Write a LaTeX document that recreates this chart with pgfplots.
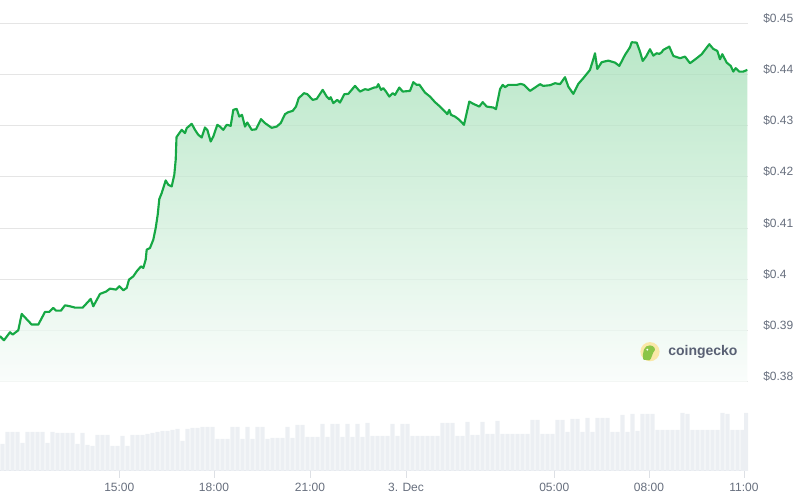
\documentclass[border=0pt]{standalone}
\usepackage{pgfplots}
\pgfplotsset{compat=1.18}
\usepackage{pgfplotstable}
\usepackage{fontspec}
\setmainfont{Liberation Sans}
\definecolor{lineGreen}{RGB}{22,168,68}
\definecolor{fillTop}{RGB}{163,223,182}
\definecolor{fillBot}{RGB}{248,252,250}
\definecolor{gridGray}{RGB}{229,229,229}
\definecolor{volGray}{RGB}{236,239,243}
\definecolor{tickGray}{RGB}{221,224,229}
\definecolor{labelGray}{RGB}{102,110,125}
\definecolor{logoYellow}{RGB}{250,232,168}
\definecolor{logoGreen}{RGB}{139,197,72}
\definecolor{logoText}{RGB}{88,96,115}

\pgfplotstableread{
x y
0 0.38891
4 0.38813
10 0.38969
12.7 0.38924
18.3 0.39008
21.7 0.39327
31.7 0.39119
38.3 0.39119
45 0.39366
49.3 0.39366
53.3 0.39444
56 0.39392
61 0.39392
65 0.39495
70 0.39476
75 0.39450
82.7 0.39450
90.7 0.39620
93.3 0.39476
100 0.39717
106 0.39762
110 0.39821
116 0.39801
119.3 0.39866
123.3 0.39788
126.7 0.39834
129 0.39996
133.3 0.40060
136.7 0.40158
141 0.40255
143.3 0.40224
145.7 0.40386
146.7 0.40581
150 0.40614
153.3 0.40776
155.7 0.41004
157.7 0.41263
159.3 0.41569
161.7 0.41686
165.7 0.41932
168.3 0.41848
171.7 0.41815
174.3 0.42043
175.7 0.42335
176.5 0.42778
181.7 0.42920
185 0.42856
186.7 0.42953
191.7 0.43037
195 0.42920
198.3 0.42823
201.7 0.42770
205 0.42965
207.3 0.42920
210.7 0.42692
213.3 0.42789
217.3 0.43018
220 0.42984
223.3 0.42920
226.7 0.43018
230.7 0.42998
233.3 0.43310
236.7 0.43329
239.3 0.43179
242 0.43212
245 0.42984
247.3 0.43062
251.7 0.42920
256 0.42930
261 0.43129
265 0.43051
271.7 0.42959
276.7 0.42984
280.7 0.43051
285 0.43226
288.3 0.43265
292.7 0.43290
296 0.43374
298.7 0.43538
304 0.43635
307.3 0.43616
312.7 0.43505
316.7 0.43524
322.7 0.43700
326.7 0.43569
329.3 0.43519
330.7 0.43557
333.3 0.43441
337.3 0.43505
340 0.43452
344.3 0.43616
348.3 0.43622
355 0.43778
360 0.43667
365 0.43713
368.3 0.43700
374 0.43745
376.7 0.43752
378.3 0.43811
381 0.43700
383.3 0.43733
386 0.43667
389.3 0.43569
392.7 0.43635
395 0.43602
399.3 0.43745
402.7 0.43667
410 0.43680
413.3 0.43850
416.7 0.43797
419.3 0.43803
425 0.43647
430 0.43569
435 0.43460
440 0.43374
445 0.43277
447.3 0.43226
449.3 0.43310
451 0.43212
455 0.43179
459.3 0.43115
464 0.43018
469.3 0.43472
473.3 0.43427
479.3 0.43374
482.7 0.43460
486.7 0.43374
493.3 0.43355
496 0.43324
500 0.43713
502.7 0.43797
505 0.43752
508.3 0.43797
516.7 0.43797
520.7 0.43817
524 0.43797
530 0.43680
535 0.43745
540 0.43811
543.3 0.43778
550 0.43791
555 0.43830
560 0.43811
565 0.43947
568.3 0.43764
573.3 0.43622
578.3 0.43817
583.3 0.43928
590 0.44090
593.3 0.44298
595 0.44415
597.3 0.44109
601.7 0.44240
608.3 0.44271
615 0.44232
619.3 0.44168
625 0.44382
630 0.44532
631.7 0.44630
636.7 0.44622
640 0.44446
642.7 0.44265
646 0.44349
650 0.44493
653.3 0.44368
656.7 0.44415
659.3 0.44402
661.7 0.44435
663.3 0.44480
669.3 0.44544
673.3 0.44363
680 0.44318
685 0.44349
690 0.44220
696.7 0.44318
701.7 0.44396
709.3 0.44591
713.3 0.44499
717.3 0.44460
720 0.44298
722.3 0.44396
726.7 0.44232
730.7 0.44168
733.3 0.44057
735.7 0.44123
739.3 0.44057
743.3 0.44057
747.3 0.44090
}\pricetable

\pgfplotstableread{
x v
2.5 27
7.5 39
12.5 39
17.5 39
22.5 28
27.5 39
32.5 39
37.5 39
42.5 39
47.5 28
52.5 39
57.5 38
62.5 38
67.5 38
72.5 38
77.5 27
82.5 38
87.5 26
92.5 25
97.5 36
102.5 36
107.5 36
112.5 25
117.5 25
122.5 35
127.5 25
132.5 36
137.5 36
142.5 36
147.5 37
152.5 38
157.5 39
162.5 40
167.5 40
172.5 41
177.5 42
182.5 30
187.5 42
192.5 43
197.5 43
202.5 44
207.5 44
212.5 44
217.5 32
222.5 32
227.5 32
232.5 44
237.5 44
242.5 32
247.5 44
252.5 32
257.5 44
262.5 44
267.5 32
272.5 33
277.5 33
282.5 33
287.5 44
292.5 33
297.5 46
302.5 46
307.5 34
312.5 34
317.5 34
322.5 47
327.5 34
332.5 47
337.5 47
342.5 34
347.5 47
352.5 34
357.5 47
362.5 34
367.5 48
372.5 35
377.5 35
382.5 35
387.5 35
392.5 47
397.5 35
402.5 47
407.5 47
412.5 35
417.5 35
422.5 35
427.5 35
432.5 35
437.5 35
442.5 48
447.5 48
452.5 48
457.5 35
462.5 35
467.5 49
472.5 36
477.5 36
482.5 49
487.5 37
492.5 37
497.5 50
502.5 37
507.5 37
512.5 37
517.5 37
522.5 37
527.5 37
532.5 51
537.5 51
542.5 37
547.5 37
552.5 37
557.5 51
562.5 51
567.5 39
572.5 52
577.5 52
582.5 39
587.5 53
592.5 39
597.5 53
602.5 53
607.5 53
612.5 39
617.5 39
622.5 56
627.5 39
632.5 57
637.5 40
642.5 57
647.5 57
652.5 57
657.5 41
662.5 41
667.5 41
672.5 41
677.5 41
682.5 58
687.5 57
692.5 41
697.5 41
702.5 41
707.5 41
712.5 41
717.5 41
722.5 58
727.5 57
732.5 41
737.5 41
742.5 41
746.2 58
}\voltable

\begin{document}
\begin{tikzpicture}
\useasboundingbox (0,0) rectangle (600pt,374.25pt);

% volume pane
\begin{axis}[
  at={(0pt,21pt)}, anchor=south west,
  scale only axis, width=561pt, height=66.825pt,
  xmin=0, xmax=748, ymin=0, ymax=89.1,
  axis x line=bottom, axis y line=none,
  x axis line style={draw=tickGray, line width=0.75pt, -},
  xtick={119.3,214,310,406,554.3,649,744},
  xticklabels={15:00,18:00,21:00,3. Dec,05:00,08:00,11:00},
  tick align=outside, major tick length=5.25pt,
  tick style={draw=tickGray, line width=0.75pt},
  xticklabel style={font=\fontsize{9}{10}\selectfont, text=labelGray},
  clip=true,
]
\addplot[ybar, bar width=4.2, fill=volGray, draw=none] table[x=x,y=v] {\voltable};
\end{axis}

% price pane
\begin{axis}[
  at={(0pt,87.825pt)}, anchor=south west,
  scale only axis, width=561pt, height=286.425pt,
  xmin=0, xmax=748, ymin=0.38, ymax=0.454542,
  axis x line=none, axis y line*=right,
  y axis line style={draw=none},
  major tick length=0pt,
  ytick={0.38,0.39,0.40,0.41,0.42,0.43,0.44,0.45},
  yticklabels={\$0.38,\$0.39,\$0.4,\$0.41,\$0.42,\$0.43,\$0.44,\$0.45},
  yticklabel style={anchor=west, inner sep=0pt, xshift=11.25pt, yshift=3.75pt,
    font=\fontsize{9}{10}\selectfont, text=labelGray},
  ymajorgrids, grid style={draw=gridGray, line width=0.75pt},
  clip=true,
]
\addplot[top color=fillTop, bottom color=fillBot, fill opacity=0.75, draw=none] table[x=x,y=y] {\pricetable} \closedcycle;
\addplot[draw=lineGreen, line width=1.6pt, line join=round, no markers] table[x=x,y=y] {\pricetable};
\end{axis}

% watermark
\fill[logoYellow] (487.5pt,110.5pt) circle (7.2pt);
\fill[logoGreen] (482.5pt,104.5pt) .. controls (481.5pt,110pt) and (483pt,115.5pt) .. (487.5pt,115.2pt)
  .. controls (491pt,115pt) and (492.5pt,112pt) .. (490pt,110pt)
  .. controls (488.5pt,108pt) and (489pt,105pt) .. (487pt,104pt) -- cycle;
\fill[white] (485.5pt,112pt) circle (0.8pt);
\node[anchor=west, inner sep=0pt, text=logoText, font=\fontsize{10.5}{12}\selectfont\bfseries] at (501pt,110.5pt) {coingecko};
\end{tikzpicture}
\end{document}
